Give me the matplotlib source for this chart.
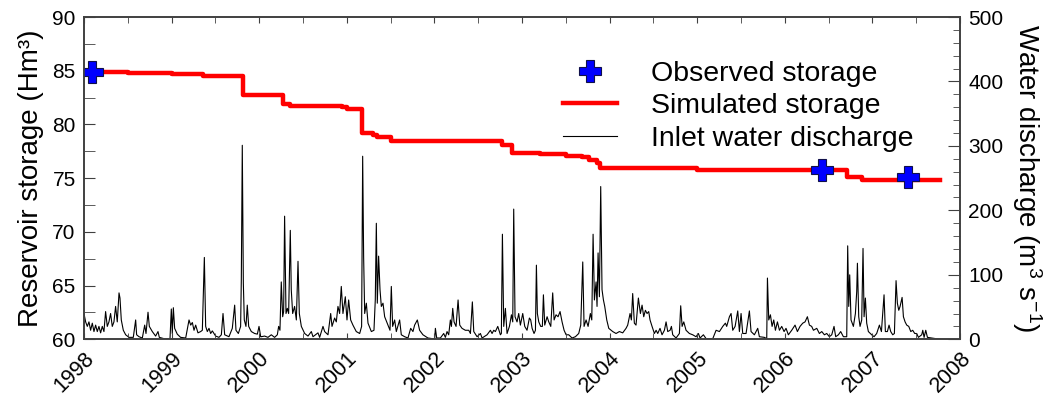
import matplotlib
matplotlib.use("Agg")
import matplotlib.pyplot as plt
from matplotlib.ticker import MultipleLocator

plt.rcParams['font.family'] = ['Liberation Sans', 'DejaVu Sans']
plt.rcParams['mathtext.fontset'] = 'custom'
plt.rcParams['mathtext.rm'] = 'Liberation Sans'
plt.rcParams['mathtext.default'] = 'regular'

# observed storage (Hm3)
obs_years = [1998.09, 2006.42, 2007.41]
obs_storage = [84.9, 75.75, 75.1]

# simulated storage, step series (Hm3)
sim_years = [1998.00, 1998.50, 1999.00, 1999.36, 1999.81, 2000.27, 2000.35, 2000.95,
             2001.00, 2001.17, 2001.30, 2001.34, 2001.51, 2002.77, 2002.89, 2003.20,
             2003.50, 2003.69, 2003.76, 2003.86, 2003.89, 2005.00, 2005.70, 2006.71,
             2006.88, 2007.77]
sim_storage = [84.9, 84.8, 84.7, 84.5, 82.7, 81.9, 81.7, 81.6,
               81.45, 79.2, 79.05, 78.85, 78.45, 78.1, 77.35, 77.25,
               77.1, 76.95, 76.7, 76.4, 75.9, 75.8, 75.75, 75.1,
               74.85, 74.85]

# inlet water discharge (m3/s)
q_years = [
    1998.000, 1998.019, 1998.038, 1998.057, 1998.076, 1998.095, 1998.114, 1998.133,
    1998.152, 1998.171, 1998.190, 1998.209, 1998.228, 1998.247, 1998.266, 1998.285,
    1998.304, 1998.323, 1998.342, 1998.361, 1998.380, 1998.400, 1998.411, 1998.426,
    1998.449, 1998.476, 1998.514, 1998.563, 1998.590, 1998.601, 1998.628, 1998.666,
    1998.693, 1998.708, 1998.731, 1998.746, 1998.780, 1998.818, 1998.845, 1998.860,
    1998.913, 1998.982, 1998.997, 1999.008, 1999.020, 1999.035, 1999.065, 1999.103,
    1999.161, 1999.199, 1999.218, 1999.237, 1999.256, 1999.275, 1999.301, 1999.332,
    1999.351, 1999.374, 1999.389, 1999.408, 1999.427, 1999.446, 1999.465, 1999.503,
    1999.541, 1999.568, 1999.587, 1999.606, 1999.655, 1999.693, 1999.720, 1999.735,
    1999.762, 1999.788, 1999.796, 1999.807, 1999.819, 1999.830, 1999.849, 1999.864,
    1999.880, 1999.910, 1999.948, 1999.979, 1999.998, 2000.017,
    2000.024, 2000.062, 2000.100, 2000.138, 2000.176, 2000.207, 2000.222, 2000.237,
    2000.252, 2000.268, 2000.279, 2000.290, 2000.306, 2000.321, 2000.336, 2000.355,
    2000.366, 2000.382, 2000.404, 2000.424, 2000.443, 2000.458, 2000.481, 2000.519,
    2000.557, 2000.595, 2000.614, 2000.671, 2000.690, 2000.728, 2000.747, 2000.785,
    2000.816, 2000.831, 2000.861, 2000.880, 2000.899, 2000.918, 2000.937, 2000.956,
    2000.983, 2001.002, 2001.021, 2001.044, 2001.070, 2001.108, 2001.147, 2001.169,
    2001.181, 2001.192, 2001.204, 2001.223, 2001.242, 2001.280, 2001.310, 2001.325,
    2001.337, 2001.348, 2001.363, 2001.379, 2001.394, 2001.413, 2001.432, 2001.470,
    2001.493, 2001.508, 2001.523, 2001.546, 2001.565, 2001.603, 2001.622, 2001.660,
    2001.698, 2001.729, 2001.755, 2001.774, 2001.805, 2001.831, 2001.869, 2001.926,
    2002.003,
    2002.011, 2002.026, 2002.068, 2002.106, 2002.125, 2002.144, 2002.163, 2002.182,
    2002.194, 2002.209, 2002.224, 2002.247, 2002.270, 2002.289, 2002.315, 2002.353,
    2002.392, 2002.411, 2002.433, 2002.449, 2002.487, 2002.525, 2002.544, 2002.601,
    2002.639, 2002.658, 2002.677, 2002.696, 2002.723, 2002.753, 2002.764, 2002.776,
    2002.791, 2002.810, 2002.829, 2002.856, 2002.879, 2002.894, 2002.905, 2002.920,
    2002.943, 2002.962, 2002.981, 2003.008, 2003.031, 2003.057, 2003.084, 2003.099,
    2003.115, 2003.137, 2003.153, 2003.164, 2003.175, 2003.191, 2003.213, 2003.232,
    2003.244, 2003.259, 2003.286, 2003.305, 2003.328, 2003.350, 2003.366, 2003.388,
    2003.411, 2003.434, 2003.457, 2003.480, 2003.503, 2003.533, 2003.571, 2003.609,
    2003.647, 2003.670, 2003.693, 2003.708, 2003.731, 2003.754, 2003.780, 2003.796,
    2003.811, 2003.826, 2003.845, 2003.856, 2003.868, 2003.883, 2003.898, 2003.913,
    2003.929, 2003.944, 2003.967, 2003.990,
    2004.035, 2004.073, 2004.111, 2004.149, 2004.187, 2004.206, 2004.233, 2004.248,
    2004.263, 2004.282, 2004.301, 2004.328, 2004.351, 2004.370, 2004.389, 2004.408,
    2004.427, 2004.446, 2004.461, 2004.484, 2004.511, 2004.530, 2004.549, 2004.575,
    2004.598, 2004.625, 2004.644, 2004.663, 2004.690, 2004.705, 2004.720, 2004.758,
    2004.796, 2004.811, 2004.827, 2004.846, 2004.872, 2004.910, 2004.948, 2004.986,
    2005.013, 2005.032, 2005.070, 2005.101, 2005.177, 2005.215, 2005.253, 2005.291,
    2005.321, 2005.336, 2005.367, 2005.386, 2005.405, 2005.432, 2005.462, 2005.481,
    2005.500, 2005.519, 2005.557, 2005.595, 2005.614, 2005.652, 2005.690, 2005.709,
    2005.766, 2005.793, 2005.801, 2005.816, 2005.835, 2005.854, 2005.873, 2005.892,
    2005.915, 2005.938, 2005.964, 2005.991,
    2006.013, 2006.040, 2006.078, 2006.116, 2006.143, 2006.173, 2006.204, 2006.230,
    2006.257, 2006.280, 2006.306, 2006.326, 2006.364, 2006.394, 2006.421, 2006.451,
    2006.478, 2006.508, 2006.535, 2006.561, 2006.580, 2006.611, 2006.637, 2006.668,
    2006.706, 2006.717, 2006.729, 2006.740, 2006.755, 2006.782, 2006.805, 2006.820,
    2006.828, 2006.843, 2006.858, 2006.877, 2006.892, 2006.904, 2006.919, 2006.934,
    2006.953, 2006.991, 2007.018, 2007.048, 2007.079, 2007.102, 2007.132, 2007.147,
    2007.170, 2007.189, 2007.208, 2007.231, 2007.250, 2007.269, 2007.284, 2007.300,
    2007.315, 2007.338, 2007.353, 2007.372, 2007.391, 2007.414, 2007.437, 2007.459,
    2007.482, 2007.505, 2007.524, 2007.562, 2007.574, 2007.589, 2007.608, 2007.627,
    2007.676, 2007.733, 2007.771]
q_values = [
    40, 27, 20, 27, 14, 25, 12, 22,
    12, 20, 10, 20, 12, 43, 20, 27,
    40, 20, 27, 51, 27, 72, 64, 30,
    14, 7, 3, 3, 30, 7, 4, 2,
    22, 9, 42, 20, 12, 5, 12, 3,
    1, 1, 47, 9, 49, 17, 8, 3,
    2, 30, 22, 26, 14, 22, 10, 12,
    14, 127, 20, 12, 17, 9, 13, 5,
    3, 7, 40, 7, 4, 17, 53, 14,
    9, 20, 93, 301, 87, 30, 20, 53,
    20, 12, 9, 8, 20, 4,
    4, 5, 3, 7, 3, 7, 20, 14,
    89, 35, 43, 191, 40, 48, 40, 169,
    77, 40, 51, 30, 121, 40, 20, 9,
    5, 12, 4, 10, 3, 20, 12, 7,
    40, 20, 33, 27, 51, 40, 82, 40,
    66, 30, 61, 30, 22, 12, 9, 20,
    284, 128, 40, 56, 25, 12, 14, 61,
    180, 56, 129, 77, 51, 56, 35, 22,
    14, 82, 20, 30, 12, 30, 7, 4,
    2, 17, 12, 22, 30, 14, 7, 2,
    0.5,
    17, 2, 2, 9, 3, 12, 7, 30,
    20, 48, 27, 20, 61, 22, 17, 14,
    14, 9, 58, 12, 4, 9, 2, 7,
    14, 9, 14, 12, 20, 7, 9, 163,
    20, 48, 9, 20, 38, 27, 202, 35,
    27, 40, 22, 40, 20, 14, 33, 30,
    17, 9, 14, 115, 40, 27, 20, 20,
    69, 22, 35, 27, 20, 72, 30, 38,
    35, 43, 27, 14, 7, 7, 2, 4,
    9, 22, 120, 20, 30, 20, 40, 30,
    163, 61, 89, 51, 134, 66, 237, 77,
    61, 51, 30, 17,
    12, 9, 12, 10, 17, 22, 40, 30,
    71, 25, 22, 64, 40, 53, 35, 45,
    40, 43, 30, 20, 9, 14, 9, 17,
    7, 14, 27, 12, 14, 20, 7, 2,
    9, 52, 20, 27, 14, 9, 7, 4,
    9, 2, 7, 1, 1, 14, 12, 20,
    25, 20, 35, 40, 14, 20, 44, 12,
    40, 9, 9, 44, 12, 7, 17, 4,
    3, 1, 95, 30, 38, 20, 30, 14,
    27, 14, 20, 12,
    17, 7, 14, 22, 12, 20, 25, 27,
    35, 22, 20, 14, 17, 9, 12, 7,
    9, 4, 7, 20, 4, 7, 12, 4,
    4, 145, 51, 100, 30, 20, 40, 74,
    118, 35, 20, 30, 141, 35, 64, 25,
    12, 7, 4, 9, 22, 12, 69, 12,
    12, 22, 12, 7, 9, 91, 56, 45,
    51, 65, 35, 27, 22, 20, 12, 14,
    9, 9, 3, 7, 14, 3, 14, 3,
    2, 1, 0]

year_ticks = list(range(1998, 2009))

fig = plt.figure(figsize=(10.47, 3.96), dpi=100)
ax = fig.add_axes([0.0802, 0.1432, 0.8368, 0.8138])
ax2 = ax.twinx()

# discharge on the right axis, storage drawn on top
q_line, = ax2.plot(q_years, q_values, color='black', lw=0.8)
sim_line, = ax.step(sim_years, sim_storage, where='post', color='#ff0000', lw=3.2)
obs_pts, = ax.plot(obs_years, obs_storage, linestyle='none', marker='P', ms=16,
                   mfc='#0000ff', mec='#10104a', mew=0.8)
ax.set_zorder(ax2.get_zorder() + 1)
ax.patch.set_visible(False)

ax.set_xlim(1998, 2008)
ax.set_ylim(60, 90)
ax2.set_ylim(0, 500)

spine_col = '#404040'
for a in (ax, ax2):
    for s in a.spines.values():
        s.set_color(spine_col)
        s.set_linewidth(1.2)

ax.set_xticks(year_ticks)
ax.set_xticklabels([str(y) for y in year_ticks], rotation=45, ha='right',
                   rotation_mode='anchor')
ax.xaxis.set_minor_locator(MultipleLocator(0.5))
ax.tick_params(axis='x', which='both', direction='in', top=True, bottom=True,
               length=4.5, color=spine_col, labelsize=15.5, pad=6)

ax.yaxis.set_major_locator(MultipleLocator(5))
ax.yaxis.set_minor_locator(MultipleLocator(2.5))
ax.tick_params(axis='y', which='both', direction='in', length=8, color=spine_col,
               labelsize=15, pad=6)

ax2.yaxis.set_major_locator(MultipleLocator(100))
ax2.yaxis.set_minor_locator(MultipleLocator(20))
ax2.tick_params(axis='y', which='major', direction='in', length=8.5, color=spine_col,
                labelsize=15, pad=6)
ax2.tick_params(axis='y', which='minor', direction='in', length=5, color=spine_col)

ax.set_ylabel('Reservoir storage (Hm³)', fontsize=20, labelpad=6)
ax2.set_ylabel('Water discharge (m$^3$ s$^{-1}$)', fontsize=20, rotation=270,
               labelpad=29)

ax.legend([obs_pts, sim_line, q_line],
          ['Observed storage', 'Simulated storage', 'Inlet water discharge'],
          loc='upper left', bbox_to_anchor=(0.547, 0.865), frameon=False,
          fontsize=20.5, borderpad=0, handlelength=1.9, handletextpad=1.2,
          labelspacing=0.24, borderaxespad=0)

fig.savefig('out.png', dpi=100)
